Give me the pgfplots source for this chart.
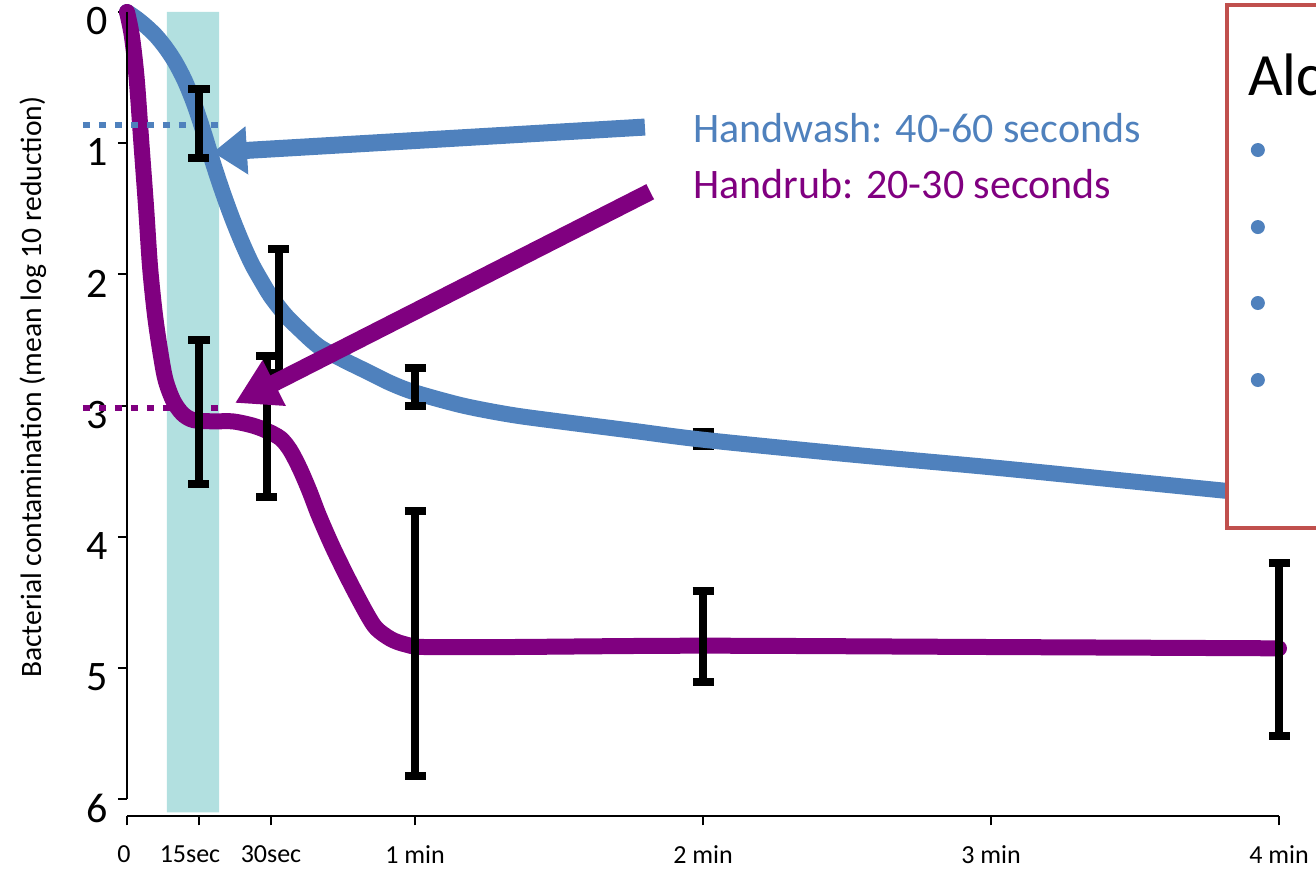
\documentclass[border=0pt]{standalone}
\usepackage{fontspec}
\setmainfont{Carlito}
\usepackage{pgfplots}
\pgfplotsset{compat=1.18}
\usetikzlibrary{arrows.meta}
\definecolor{hwblue}{HTML}{4F81BD}
\definecolor{hrpurple}{HTML}{800080}
\definecolor{bandcol}{HTML}{B2E0E0}
\definecolor{boxred}{HTML}{C0504D}

\begin{document}
\begin{tikzpicture}
\begin{axis}[
  x=2.4pt, y=65.6pt, y dir=reverse,
  xmin=0, xmax=240, ymin=0, ymax=6.13,
  clip=false,
  axis line style={draw=none},
  xtick={0,15,30,60,120,180,240},
  xticklabels={0\kern3pt,15sec\kern9pt,30sec,1 min,2 min,3 min,4 min},
  ytick={0,1,2,3,4,5,6},
  xtick pos=left, ytick pos=left,
  tick align=outside,
  major tick length=4.5pt,
  tick style={black, line width=1pt},
  xticklabel style={font=\fontsize{13}{15}\selectfont, anchor=north, inner sep=0pt, yshift=-10pt},
  yticklabel style={font=\fontsize{21}{25}\selectfont, anchor=east, inner sep=0pt, xshift=-5pt, yshift=-4.5pt},
  /pgf/number format/assume math mode=true,
  ebar/.style={draw=none, mark=none, forget plot, line width=4.1pt,
    error bars/.cd, y dir=both, y explicit,
    error bar style={draw=black, line width=4.1pt},
    error mark options={draw=black, rotate=90, mark size=5.25pt, line width=4pt}},
]
\coordinate (TL) at (axis cs:-26.458,-0.09146);
\coordinate (BR) at (axis cs:247.71,6.532);

% shaded band
\addplot[fill=bandcol, draw=none, forget plot] coordinates {(8.3,0) (19.2,0) (19.2,6.1) (8.3,6.1) (8.3,0)};

% hidden error bar under blue line at 2 min
\addplot[ebar] coordinates {(120,3.255) +- (0,0.055)};

% Handwash (blue)
\addplot[hwblue, line width=8pt, line cap=round, smooth, tension=0.5, forget plot] coordinates {
(0,0) (2,0.05) (4,0.11) (6,0.18) (8,0.27) (10,0.38) (12,0.52) (14,0.70) (16,0.92) (18,1.16) (20,1.38) (22,1.58) (24,1.76) (26,1.92) (28,2.05) (30,2.17) (33,2.31) (36,2.42) (40,2.55) (45,2.65) (50,2.74) (55,2.83) (60,2.90) (70,3.00) (80,3.07) (90,3.12) (105,3.19) (120,3.26) (150,3.37) (180,3.47) (210,3.58) (240,3.69)};

% Handrub (purple)
\addplot[hrpurple, line width=8pt, line cap=round, smooth, tension=0.5, forget plot] coordinates {
(0,0) (1,0.18) (2,0.5) (3,1.0) (4,1.5) (4.8,1.94) (5.8,2.3) (6.9,2.58) (8,2.8) (9.6,2.96) (11.5,3.06) (13.8,3.11) (18,3.12) (22,3.12) (26,3.15) (29,3.19) (32,3.25) (34,3.34) (36,3.48) (38,3.65) (40,3.84) (43,4.09) (46.5,4.35) (50,4.59) (52,4.70) (55,4.78) (58,4.82) (62,4.84) (80,4.84) (120,4.83) (180,4.84) (240,4.85)};

% dotted reference lines
\draw[hwblue, line width=3.25pt, dash pattern=on 3.5pt off 4.5pt] (axis cs:-9.2,0.861) -- (axis cs:19.2,0.861);
\draw[hrpurple, line width=3.25pt, dash pattern=on 3.5pt off 4.5pt] (axis cs:-9.2,3.02) -- (axis cs:19.2,3.02);

% error bars
\addplot[ebar] coordinates {
(15,0.85) +- (0,0.26)
(31.6,2.28) +- (0,0.47)
(60,2.855) +- (0,0.145)
(15,3.05) +- (0,0.55)
(29.1,3.16) +- (0,0.54)
(60,4.81) +- (0,1.01)
(120,4.76) +- (0,0.35)
(240,4.86) +- (0,0.66)
};

% axis lines
\draw[black, line width=1pt] (axis cs:0,0) -- (axis cs:0,6);
\draw[black, line width=1pt] (axis cs:0,6.13) -- (axis cs:240,6.13);

% arrows
\draw[hwblue, line width=8.5pt, -{Triangle[length=17pt, width=23pt]}] (axis cs:107.9,0.877) -- (axis cs:17.9,1.07);
\draw[hrpurple, line width=8.5pt, -{Triangle[length=22pt, width=24pt]}] (axis cs:109,1.37) -- (axis cs:22.5,2.98);

% texts
\node[anchor=base west, inner sep=0pt, text=hwblue, font=\fontsize{21}{25}\selectfont] at (axis cs:117.9,0.991) {Handwash: 40-60 seconds};
\node[anchor=base west, inner sep=0pt, text=hrpurple, font=\fontsize{21}{25}\selectfont] at (axis cs:117.9,1.425) {Handrub: 20-30 seconds};
\node[rotate=90, inner sep=0pt, font=\fontsize{14.8}{17}\selectfont] at (axis cs:-19.6,2.86) {Bacterial contamination (mean log 10 reduction)};

% side box
\draw[boxred, line width=2pt, fill=white] (axis cs:229.2,-0.053) rectangle (axis cs:262,3.933);
\node[anchor=base west, inner sep=0pt, font=\fontsize{30}{36}\selectfont] at (axis cs:233.5,0.64) {Alcohol-based handrub};
\node[circle, fill=hwblue, inner sep=0pt, minimum size=7pt] at (axis cs:235.6,1.052) {};
\node[circle, fill=hwblue, inner sep=0pt, minimum size=7pt] at (axis cs:235.6,1.639) {};
\node[circle, fill=hwblue, inner sep=0pt, minimum size=7pt] at (axis cs:235.6,2.218) {};
\node[circle, fill=hwblue, inner sep=0pt, minimum size=7pt] at (axis cs:235.6,2.805) {};
\end{axis}
\pgfresetboundingbox
\path[use as bounding box] (TL) rectangle (BR);
\end{tikzpicture}
\end{document}
